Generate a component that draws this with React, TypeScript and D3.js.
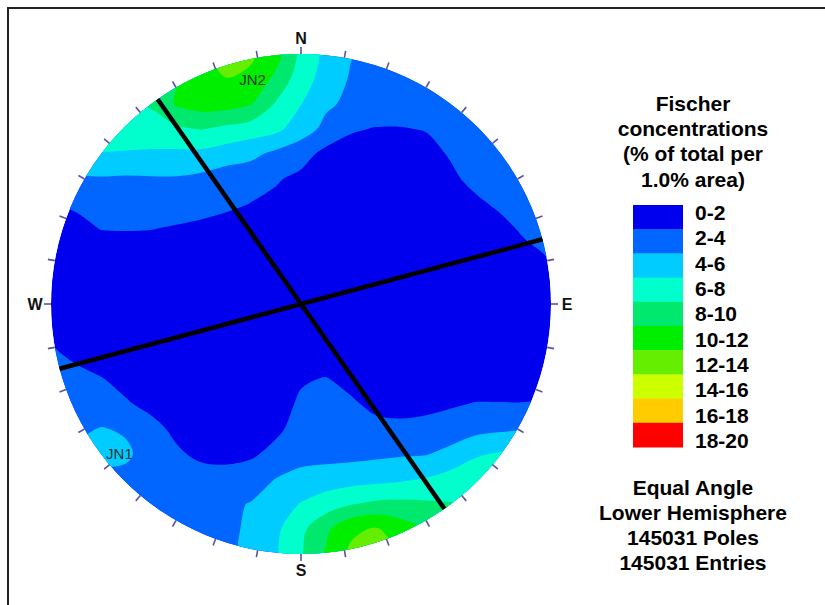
import React, { useMemo } from "react";
import * as d3 from "d3";

// density grid read off the stereonet, % of total per 1% area
// rows go north -> south, columns west -> east, 21 x 21 over the net's bounding box
const density: number[][] = [
  [7, 7.5, 8, 9, 9.8, 10.5, 11.5, 12.8, 12.3, 10.8, 7.5, 5.5, 4.1, 3.3, 3, 3, 3, 3, 3, 3, 3],
  [7, 7.5, 8.2, 9, 9.6, 10, 11, 11.95, 11.6, 9.5, 6.9, 5.2, 3.8, 3.3, 3.1, 3, 3, 3, 3, 3, 3],
  [6.5, 7, 7.5, 7.9, 8.1, 10.2, 10.8, 10.8, 10.1, 7.8, 6.05, 4.3, 3.6, 3.2, 3, 3, 3, 3, 3, 3, 3],
  [6.5, 6.8, 7, 7.2, 7.6, 7.6, 8.1, 7.5, 7.0, 6.5, 4.9, 3.5, 2.2, 1.9, 1.9, 2.1, 2.8, 3, 3, 3, 3],
  [5.5, 5.8, 5.9, 5.8, 5.6, 5.6, 5.5, 5.0, 4.5, 3.5, 2.8, 1.4, 1.2, 1, 1, 1.3, 2.2, 2.9, 3.1, 3.2, 3.2],
  [3.9, 3.7, 3.8, 3.7, 3.8, 3.8, 3.5, 2.9, 2.7, 2.2, 1.5, 1, 0.8, 0.8, 0.8, 0.8, 1.6, 2.6, 3, 3.2, 3.2],
  [1.9, 2.3, 3, 3.1, 3.1, 3, 2.8, 2.4, 1.95, 1.5, 1, 0.8, 0.8, 0.8, 0.8, 0.8, 0.8, 1.6, 2.4, 3, 3.2],
  [1.5, 1.4, 2.05, 2.1, 2.05, 1.8, 1.5, 1.2, 1, 0.8, 0.8, 0.8, 0.8, 0.8, 0.8, 0.8, 0.8, 0.8, 1.4, 2.4, 3],
  [1.2, 0.9, 0.9, 0.9, 0.9, 0.9, 0.8, 0.8, 0.8, 0.8, 0.8, 0.8, 0.8, 0.8, 0.8, 0.8, 0.8, 0.8, 0.9, 1.5, 2.2],
  [1.2, 0.8, 0.8, 0.8, 0.8, 0.8, 0.8, 0.8, 0.8, 0.8, 0.8, 0.8, 0.8, 0.8, 0.8, 0.8, 0.8, 0.8, 0.8, 1.0, 1.6],
  [1.2, 0.8, 0.8, 0.8, 0.8, 0.8, 0.8, 0.8, 0.8, 0.8, 0.8, 0.8, 0.8, 0.8, 0.8, 0.8, 0.8, 0.8, 0.8, 0.9, 1.4],
  [1.4, 0.8, 0.8, 0.8, 0.8, 0.8, 0.8, 0.8, 0.8, 0.8, 0.8, 0.8, 0.8, 0.8, 0.8, 0.8, 0.8, 0.8, 0.8, 0.9, 1.3],
  [2.3, 1.6, 1.0, 0.8, 0.8, 0.8, 0.8, 0.8, 0.8, 0.8, 0.8, 0.8, 0.8, 0.8, 0.8, 0.8, 0.8, 0.8, 0.8, 0.9, 1.3],
  [3, 2.6, 2.1, 1.4, 1.1, 0.9, 0.8, 0.8, 0.8, 0.8, 1.8, 2.1, 1.4, 1, 0.8, 0.8, 0.8, 0.8, 0.8, 0.8, 1.2],
  [3.2, 3.1, 2.9, 2.2, 1.5, 1.1, 0.9, 0.8, 0.9, 1.2, 2.3, 3, 2.3, 1.5, 1.3, 1.5, 1.8, 2.1, 2.1, 2.1, 2.3],
  [3.5, 3.6, 4.1, 3.8, 2.6, 1.6, 1.1, 1.0, 1.1, 1.6, 2.8, 3, 2.9, 2.6, 2.5, 2.6, 2.9, 3.4, 3.7, 3.9, 4],
  [4.3, 4.5, 4.6, 4.3, 3.2, 2.3, 1.6, 1.4, 1.7, 2.6, 3.2, 3.3, 3.4, 3.6, 3.8, 3.9, 4.6, 5.8, 6.2, 6.5, 6.5],
  [3.6, 3.6, 3.5, 3.5, 3.3, 3.1, 2.8, 2.8, 3.1, 4.05, 4.7, 5, 5.2, 5.4, 5.7, 6.1, 6.8, 7.1, 7.2, 7, 7],
  [3.5, 3.5, 3.5, 3.5, 3.4, 3.3, 3.3, 3.6, 4.1, 5.1, 6.1, 7, 7.9, 8.4, 8.5, 8.3, 8.1, 7.8, 7.5, 7.3, 7.3],
  [3.5, 3.5, 3.5, 3.5, 3.5, 3.5, 3.4, 3.6, 4.3, 5.6, 7.5, 9.6, 11.6, 12.2, 11, 9.9, 8.5, 7.8, 7.5, 7.3, 7.3],
  [3.5, 3.5, 3.5, 3.5, 3.5, 3.5, 3.5, 3.7, 4.4, 5.8, 7.8, 10.2, 12.4, 12.8, 12, 10.4, 8.5, 8, 7.5, 7.3, 7.3],
];

const bandLabels = ["0-2", "2-4", "4-6", "6-8", "8-10", "10-12", "12-14", "14-16", "16-18", "18-20"];
const bandBreaks = [2, 4, 6, 8, 10, 12, 14, 16, 18];
const bandColors = [
  "#0000ee", "#0066ff", "#00ccff", "#00ffcc", "#00e86e",
  "#00ee00", "#66ee00", "#ccff00", "#ffcc00", "#ff0000",
];

const legendTitle = ["Fischer", "concentrations", "(% of total per", "1.0% area)"];
const footerLines = ["Equal Angle", "Lower Hemisphere", "145031 Poles", "145031 Entries"];

const compass = [
  { label: "N", az: 0 },
  { label: "E", az: 90 },
  { label: "S", az: 180 },
  { label: "W", az: 270 },
];
const tickAzimuths = [0, 10, 20, 30, 40, 50, 60, 70, 80, 90, 100, 110, 120, 130, 140, 150, 160, 170,
  180, 190, 200, 210, 220, 230, 240, 250, 260, 270, 280, 290, 300, 310, 320, 330, 340, 350];

// vertical joint planes drawn as traces across the net (strike azimuths)
const planeStrikes = [145, 75];

// set labels: azimuth and radial distance (fraction of net radius)
const setLabels = [
  { name: "JN2", az: 347.8, r: 0.917 },
  { name: "JN1", az: 230.6, r: 0.94 },
];

const FONT = "'Liberation Sans', Arial, Helvetica, sans-serif";

export default function App() {
  const width = 825, height = 605;
  const cx = 301, cy = 304, R = 250;

  const paths = useMemo(() => {
    const rows = density.length, cols = density[0].length, pad = 1;
    const pw = cols + 2 * pad, ph = rows + 2 * pad;
    // pad the grid by repeating its edge so the bands run past the rim before clipping
    const values: number[] = [];
    for (let j = 0; j < ph; j++) {
      for (let i = 0; i < pw; i++) {
        const jj = Math.min(rows - 1, Math.max(0, j - pad));
        const ii = Math.min(cols - 1, Math.max(0, i - pad));
        values.push(density[jj][ii]);
      }
    }
    const gx = d3.scaleLinear().domain([pad + 0.5, pad + 0.5 + cols - 1]).range([cx - R, cx + R]);
    const gy = d3.scaleLinear().domain([pad + 0.5, pad + 0.5 + rows - 1]).range([cy - R, cy + R]);
    const color = d3.scaleThreshold<number, string>().domain(bandBreaks).range(bandColors);
    const ring = d3.line<number[]>()
      .x(p => gx(p[0]))
      .y(p => gy(p[1]))
      .curve(d3.curveCatmullRomClosed.alpha(0.5));
    const cs = d3.contours().size([pw, ph]).thresholds(bandBreaks)(values);
    return cs.map(c => ({
      fill: color(c.value),
      d: c.coordinates.map(poly => poly.map(r => ring(r.slice(0, -1)) || "").join("")).join(""),
    }));
  }, []);

  const polar = (az: number, r: number): [number, number] => {
    const a = (az * Math.PI) / 180;
    return [cx + r * Math.sin(a), cy - r * Math.cos(a)];
  };

  const swatchY = d3.scaleBand().domain(bandLabels).range([205, 447]).padding(0);
  const labelY = d3.scalePoint().domain(bandLabels).range([212.5, 440.5]);
  const titleY = d3.scalePoint().domain(legendTitle).range([111, 186.5]);
  const footY = d3.scalePoint().domain(footerLines).range([495, 570]);

  return (
    <svg width={width} height={height} style={{ position: "absolute", left: 0, top: 0, background: "#fff" }}>
      <rect x={0} y={0} width={width} height={height} fill="#fff" />
      {/* frame */}
      <line x1={8} y1={7} x2={8} y2={height} stroke="#222" strokeWidth={2} />
      <line x1={7} y1={8} x2={width} y2={8} stroke="#222" strokeWidth={2} />

      <defs>
        <clipPath id="net">
          <circle cx={cx} cy={cy} r={R} />
        </clipPath>
      </defs>

      <g clipPath="url(#net)">
        <circle cx={cx} cy={cy} r={R} fill={bandColors[0]} />
        {paths.map((p, i) => (
          <path key={i} d={p.d} fill={p.fill} fillRule="evenodd" stroke="none" />
        ))}
      </g>

      {tickAzimuths.map(az => {
        const [x1, y1] = polar(az, R);
        const [x2, y2] = polar(az, R + 7);
        return <line key={az} x1={x1} y1={y1} x2={x2} y2={y2} stroke="#5b52a3" strokeWidth={1.6} />;
      })}

      {compass.map(c => {
        const [x, y] = polar(c.az, R + 16);
        return (
          <text key={c.label} x={x} y={y} textAnchor="middle" dominantBaseline="central"
            fontFamily={FONT} fontSize={16} fontWeight="bold" fill="#111">{c.label}</text>
        );
      })}

      {setLabels.map(s => {
        const [x, y] = polar(s.az, s.r * R);
        return (
          <text key={s.name} x={x} y={y} textAnchor="middle" dominantBaseline="central"
            fontFamily={FONT} fontSize={15} fill="#333">{s.name}</text>
        );
      })}

      {planeStrikes.map(s => {
        const [x1, y1] = polar(s, R);
        const [x2, y2] = polar(s + 180, R);
        return <line key={s} x1={x1} y1={y1} x2={x2} y2={y2} stroke="#000" strokeWidth={4.5} />;
      })}

      {legendTitle.map(t => (
        <text key={t} x={693} y={titleY(t)} textAnchor="middle" fontFamily={FONT}
          fontSize={21} fontWeight="bold" fill="#000">{t}</text>
      ))}

      {bandLabels.map((b, i) => (
        <g key={b}>
          <rect x={633} y={swatchY(b)} width={50} height={swatchY.bandwidth() + 0.5} fill={bandColors[i]} />
          <text x={695} y={labelY(b)} dominantBaseline="central" fontFamily={FONT}
            fontSize={21} fontWeight="bold" fill="#000">{b}</text>
        </g>
      ))}

      {footerLines.map(t => (
        <text key={t} x={693} y={footY(t)} textAnchor="middle" fontFamily={FONT}
          fontSize={21} fontWeight="bold" fill="#000">{t}</text>
      ))}
    </svg>
  );
}
